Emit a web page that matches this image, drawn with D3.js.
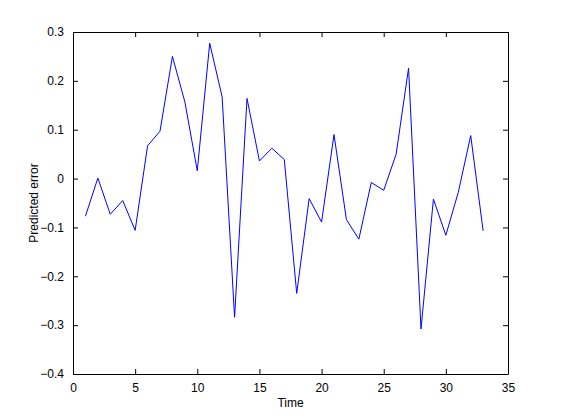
<!DOCTYPE html>
<html><head><meta charset="utf-8">
<script src="https://cdn.jsdelivr.net/npm/d3@7"></script>
<style>body{margin:0;background:#fff}svg{display:block}</style>
</head><body>
<script>
const timeValues = [1,2,3,4,5,6,7,8,9,10,11,12,13,14,15,16,17,18,19,20,21,22,23,24,25,26,27,28,29,30,31,32,33];
const errorValues = [-0.077,0.001,-0.073,-0.045,-0.106,0.067,0.097,0.250,0.157,0.016,0.277,0.167,-0.284,0.164,0.036,0.062,0.039,-0.235,-0.041,-0.089,0.090,-0.084,-0.124,-0.008,-0.024,0.050,0.226,-0.308,-0.042,-0.116,-0.028,0.088,-0.107];
const xTicks = [0,5,10,15,20,25,30,35];
const yTicks = [-0.4,-0.3,-0.2,-0.1,0,0.1,0.2,0.3];
const xLabel = "Time", yLabel = "Predicted error";

const W=561,H=420, L=73, R=508, T=32, B=374;
const svg=d3.select("body").append("svg").attr("width",W).attr("height",H);
const x=d3.scaleLinear().domain([0,35]).range([L,R]);
const y=d3.scaleLinear().domain([-0.4,0.3]).range([B,T]);
const font="Liberation Sans, Arial, sans-serif";
const fmt=d=>d===0?"0":d3.format(".1f")(d);

const tl=5;
// axes via d3
const gB=svg.append("g").attr("transform",`translate(0,${B})`).call(d3.axisBottom(x).tickValues(xTicks).tickSizeInner(-tl).tickSizeOuter(0).tickPadding(9).tickFormat(d3.format("d")));
const gL=svg.append("g").attr("transform",`translate(${L},0)`).call(d3.axisLeft(y).tickValues(yTicks).tickSizeInner(-tl).tickSizeOuter(0).tickPadding(9).tickFormat(fmt));
const gT=svg.append("g").attr("transform",`translate(0,${T})`).call(d3.axisTop(x).tickValues(xTicks).tickSizeInner(-tl).tickSizeOuter(0).tickFormat(""));
const gR=svg.append("g").attr("transform",`translate(${R},0)`).call(d3.axisRight(y).tickValues(yTicks).tickSizeInner(-tl).tickSizeOuter(0).tickFormat(""));
[gB,gL,gT,gR].forEach(g=>{
  g.select(".domain").attr("stroke","#000").attr("stroke-width",1);
  g.selectAll(".tick line").attr("stroke","#000");
  g.selectAll("text").attr("font-family",font).attr("font-size",12).attr("fill","#000");
});
gB.selectAll("text").attr("dy","0.71em");

svg.append("path").datum(timeValues.map((t,i)=>[t,errorValues[i]]))
  .attr("fill","none").attr("stroke","#0000ff").attr("stroke-width",1)
  .attr("d",d3.line().x(d=>x(d[0])).y(d=>y(d[1])));

svg.append("text").attr("x",(L+R)/2).attr("y",407).attr("text-anchor","middle")
  .attr("font-family",font).attr("font-size",12).text(xLabel);
svg.append("text").attr("transform",`translate(38,${(T+B)/2}) rotate(-90)`).attr("text-anchor","middle")
  .attr("font-family",font).attr("font-size",12).text(yLabel);
</script>
</body></html>
